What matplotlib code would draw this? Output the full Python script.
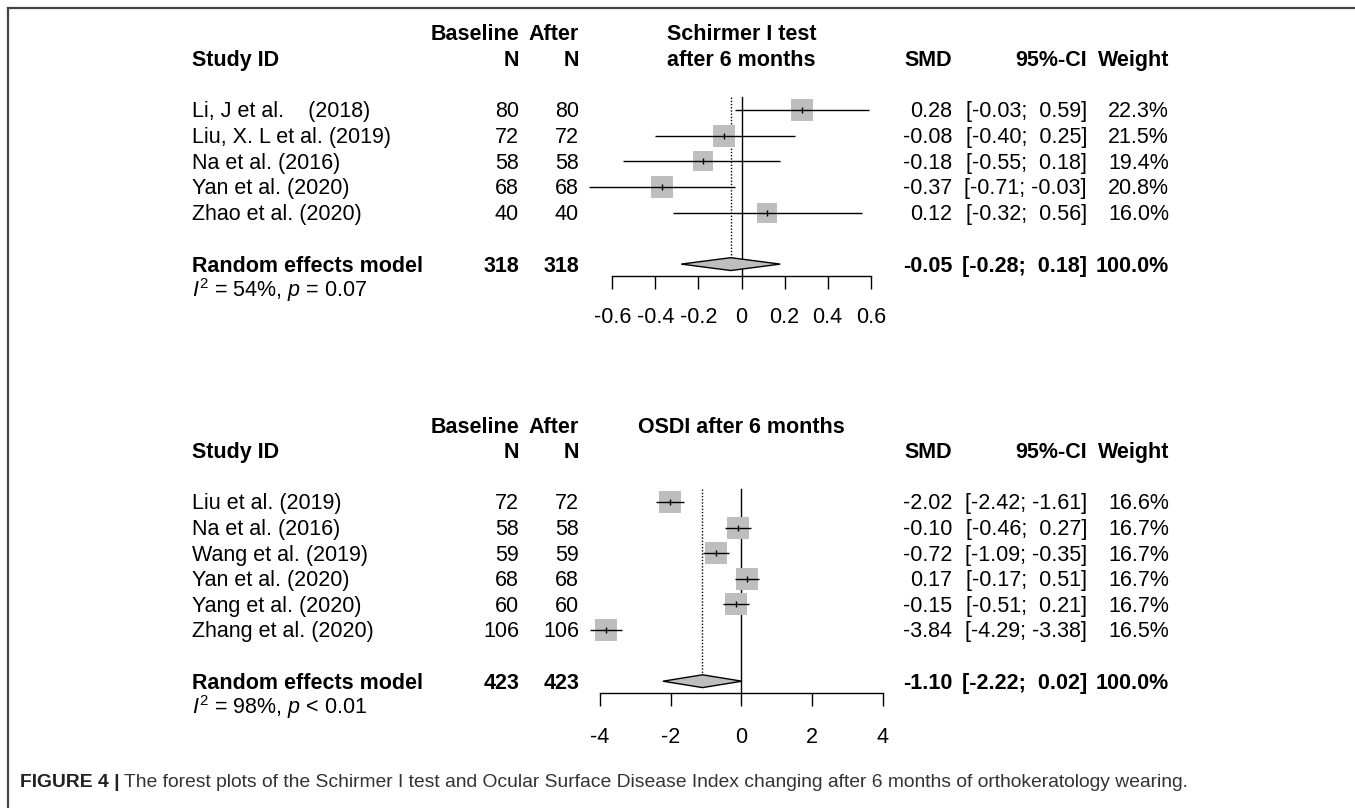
import matplotlib
matplotlib.use('Agg')
import matplotlib.pyplot as plt
from matplotlib.patches import Polygon
from matplotlib.lines import Line2D
from matplotlib.transforms import blended_transform_factory
import numpy as np

plt.rcParams['font.family'] = ['Liberation Sans', 'DejaVu Sans']
plt.rcParams['mathtext.fontset'] = 'custom'
plt.rcParams['mathtext.rm'] = 'Liberation Sans'
plt.rcParams['mathtext.it'] = 'Liberation Sans:italic'

# Schirmer I test after 6 months
sch_studies = ['Li, J et al.    (2018)', 'Liu, X. L et al. (2019)', 'Na et al. (2016)',
               'Yan et al. (2020)', 'Zhao et al. (2020)']
sch_n_base = [80, 72, 58, 68, 40]
sch_n_after = [80, 72, 58, 68, 40]
sch_smd = [0.28, -0.08, -0.18, -0.37, 0.12]
sch_lo = [-0.03, -0.40, -0.55, -0.71, -0.32]
sch_hi = [0.59, 0.25, 0.18, -0.03, 0.56]
sch_w = [22.3, 21.5, 19.4, 20.8, 16.0]
sch_total = [318, 318]
sch_pooled = [-0.05, -0.28, 0.18]
sch_het = r'$I^2$ = 54%, $p$ = 0.07'
sch_ticks = [-0.6, -0.4, -0.2, 0, 0.2, 0.4, 0.6]
sch_ticklabels = ['-0.6', '-0.4', '-0.2', '0', '0.2', '0.4', '0.6']

# OSDI after 6 months
osdi_studies = ['Liu et al. (2019)', 'Na et al. (2016)', 'Wang et al. (2019)',
                'Yan et al. (2020)', 'Yang et al. (2020)', 'Zhang et al. (2020)']
osdi_n_base = [72, 58, 59, 68, 60, 106]
osdi_n_after = [72, 58, 59, 68, 60, 106]
osdi_smd = [-2.02, -0.10, -0.72, 0.17, -0.15, -3.84]
osdi_lo = [-2.42, -0.46, -1.09, -0.17, -0.51, -4.29]
osdi_hi = [-1.61, 0.27, -0.35, 0.51, 0.21, -3.38]
osdi_w = [16.6, 16.7, 16.7, 16.7, 16.7, 16.5]
osdi_total = [423, 423]
osdi_pooled = [-1.10, -2.22, 0.02]
osdi_het = r'$I^2$ = 98%, $p$ < 0.01'
osdi_ticks = [-4, -2, 0, 2, 4]
osdi_ticklabels = ['-4', '-2', '0', '2', '4']

W, H = 1355, 808
fig = plt.figure(figsize=(W / 100, H / 100), dpi=100)
FS = 15.5
BOX = '#BEBEBE'


def forest(studies, nb, na, smd, lo, hi, w, total, pooled, het, title, ticks, ticklabels,
           x_left, x_right, y_hdr, row_h, tick_pad):
    n = len(studies)
    r_pool = n + 3
    r_axis = r_pool + 0.47
    r_top = -1.6
    ax = fig.add_axes([x_left / W, 1 - (y_hdr + r_axis * row_h) / H,
                       (x_right - x_left) / W, (r_axis - r_top) * row_h / H])
    ax.set_xlim(ticks[0], ticks[-1])
    ax.set_ylim(r_axis, r_top)
    for s in ['top', 'left', 'right']:
        ax.spines[s].set_visible(False)
    ax.spines['bottom'].set_linewidth(1.0)
    ax.set_yticks([])
    ax.set_xticks(ticks)
    ax.set_xticklabels(ticklabels, fontsize=FS)
    ax.tick_params(axis='x', direction='out', length=9.5, width=1.0, pad=tick_pad)
    ax.patch.set_visible(False)

    tr = blended_transform_factory(fig.transFigure, ax.transData)
    bl = 0.29  # baseline offset below row centre

    def col(xpx, r, s, ha, bold=False):
        ax.text(xpx / W, r + bl, s, transform=tr, ha=ha, va='baseline', fontsize=FS,
                fontweight='bold' if bold else 'normal', clip_on=False)

    # headers
    col(192, 0, 'Study ID', 'left', True)
    col(519, -1, 'Baseline', 'right', True)
    col(519, 0, 'N', 'right', True)
    col(579, -1, 'After', 'right', True)
    col(579, 0, 'N', 'right', True)
    for i, t in enumerate(title):
        ax.text(0, i - 1 + bl, t, ha='center', va='baseline', fontsize=FS,
                fontweight='bold', clip_on=False)
    col(952, 0, 'SMD', 'right', True)
    col(1087, 0, '95%-CI', 'right', True)
    col(1169, 0, 'Weight', 'right', True)

    rows = np.arange(n) + 2
    wmax = max(w)
    for r, s, b, a, m, l, h, wt in zip(rows, studies, nb, na, smd, lo, hi, w):
        col(192, r, s, 'left')
        col(519, r, str(b), 'right')
        col(579, r, str(a), 'right')
        col(952, r, f'{m:.2f}', 'right')
        col(1087, r, f'[{l:5.2f}; {h:5.2f}]', 'right')
        col(1169, r, f'{wt:.1f}%', 'right')
        side = 22.5 * np.sqrt(wt / wmax) * 0.72
        ax.scatter([m], [r], marker='s', s=side ** 2, color=BOX, linewidths=0,
                   zorder=2, clip_on=False)
        ax.plot([l, h], [r, r], color='black', lw=1.0, zorder=3, solid_capstyle='butt',
                clip_on=False)
        ax.plot([m], [r], marker='|', color='black', markersize=5, mew=1.0, zorder=4,
                clip_on=False)

    # pooled
    col(192, r_pool, 'Random effects model', 'left', True)
    col(519, r_pool, str(total[0]), 'right', True)
    col(579, r_pool, str(total[1]), 'right', True)
    col(952, r_pool, f'{pooled[0]:.2f}', 'right', True)
    col(1087, r_pool, f'[{pooled[1]:5.2f}; {pooled[2]:5.2f}]', 'right', True)
    col(1169, r_pool, '100.0%', 'right', True)
    col(192, r_pool + 1, het, 'left')

    dh = 0.25
    ax.add_patch(Polygon([[pooled[1], r_pool], [pooled[0], r_pool - dh],
                          [pooled[2], r_pool], [pooled[0], r_pool + dh]],
                         closed=True, facecolor=BOX, edgecolor='black', lw=1.0,
                         zorder=3, clip_on=False))
    ax.plot([0, 0], [1.5, r_axis], color='black', lw=1.0, zorder=1, clip_on=False)
    ax.plot([pooled[0], pooled[0]], [1.5, r_pool - dh], color='black', lw=1.0,
            ls=(0, (1.0, 1.3)), zorder=1, clip_on=False)
    return ax


forest(sch_studies, sch_n_base, sch_n_after, sch_smd, sch_lo, sch_hi, sch_w, sch_total,
       sch_pooled, sch_het, ['Schirmer I test', 'after 6 months'], sch_ticks, sch_ticklabels,
       612.3, 870.7, 58.5, 25.7, 12.5)
forest(osdi_studies, osdi_n_base, osdi_n_after, osdi_smd, osdi_lo, osdi_hi, osdi_w,
       osdi_total, osdi_pooled, osdi_het, ['OSDI after 6 months'], osdi_ticks,
       osdi_ticklabels, 600.0, 882.7, 450.8, 25.6, 14.5)

# frame lines (top and left)
fig.add_artist(Line2D([8 / W, 1], [1 - 8 / H, 1 - 8 / H], transform=fig.transFigure,
                      color='#444444', lw=1.6))
fig.add_artist(Line2D([8 / W, 8 / W], [0, 1 - 8 / H], transform=fig.transFigure,
                      color='#444444', lw=1.6))

# caption
cap_y = 1 - 787 / H
t1 = fig.text(20 / W, cap_y, 'FIGURE 4 |', fontsize=13.9, fontweight='bold',
              color='#222222', va='baseline', ha='left')
fig.canvas.draw()
bb = t1.get_window_extent(renderer=fig.canvas.get_renderer())
fig.text((bb.x1 + 4) / W, cap_y,
         'The forest plots of the Schirmer I test and Ocular Surface Disease Index '
         'changing after 6 months of orthokeratology wearing.',
         fontsize=13.9, color='#333333', va='baseline', ha='left')

fig.savefig('out.png', dpi=100)
